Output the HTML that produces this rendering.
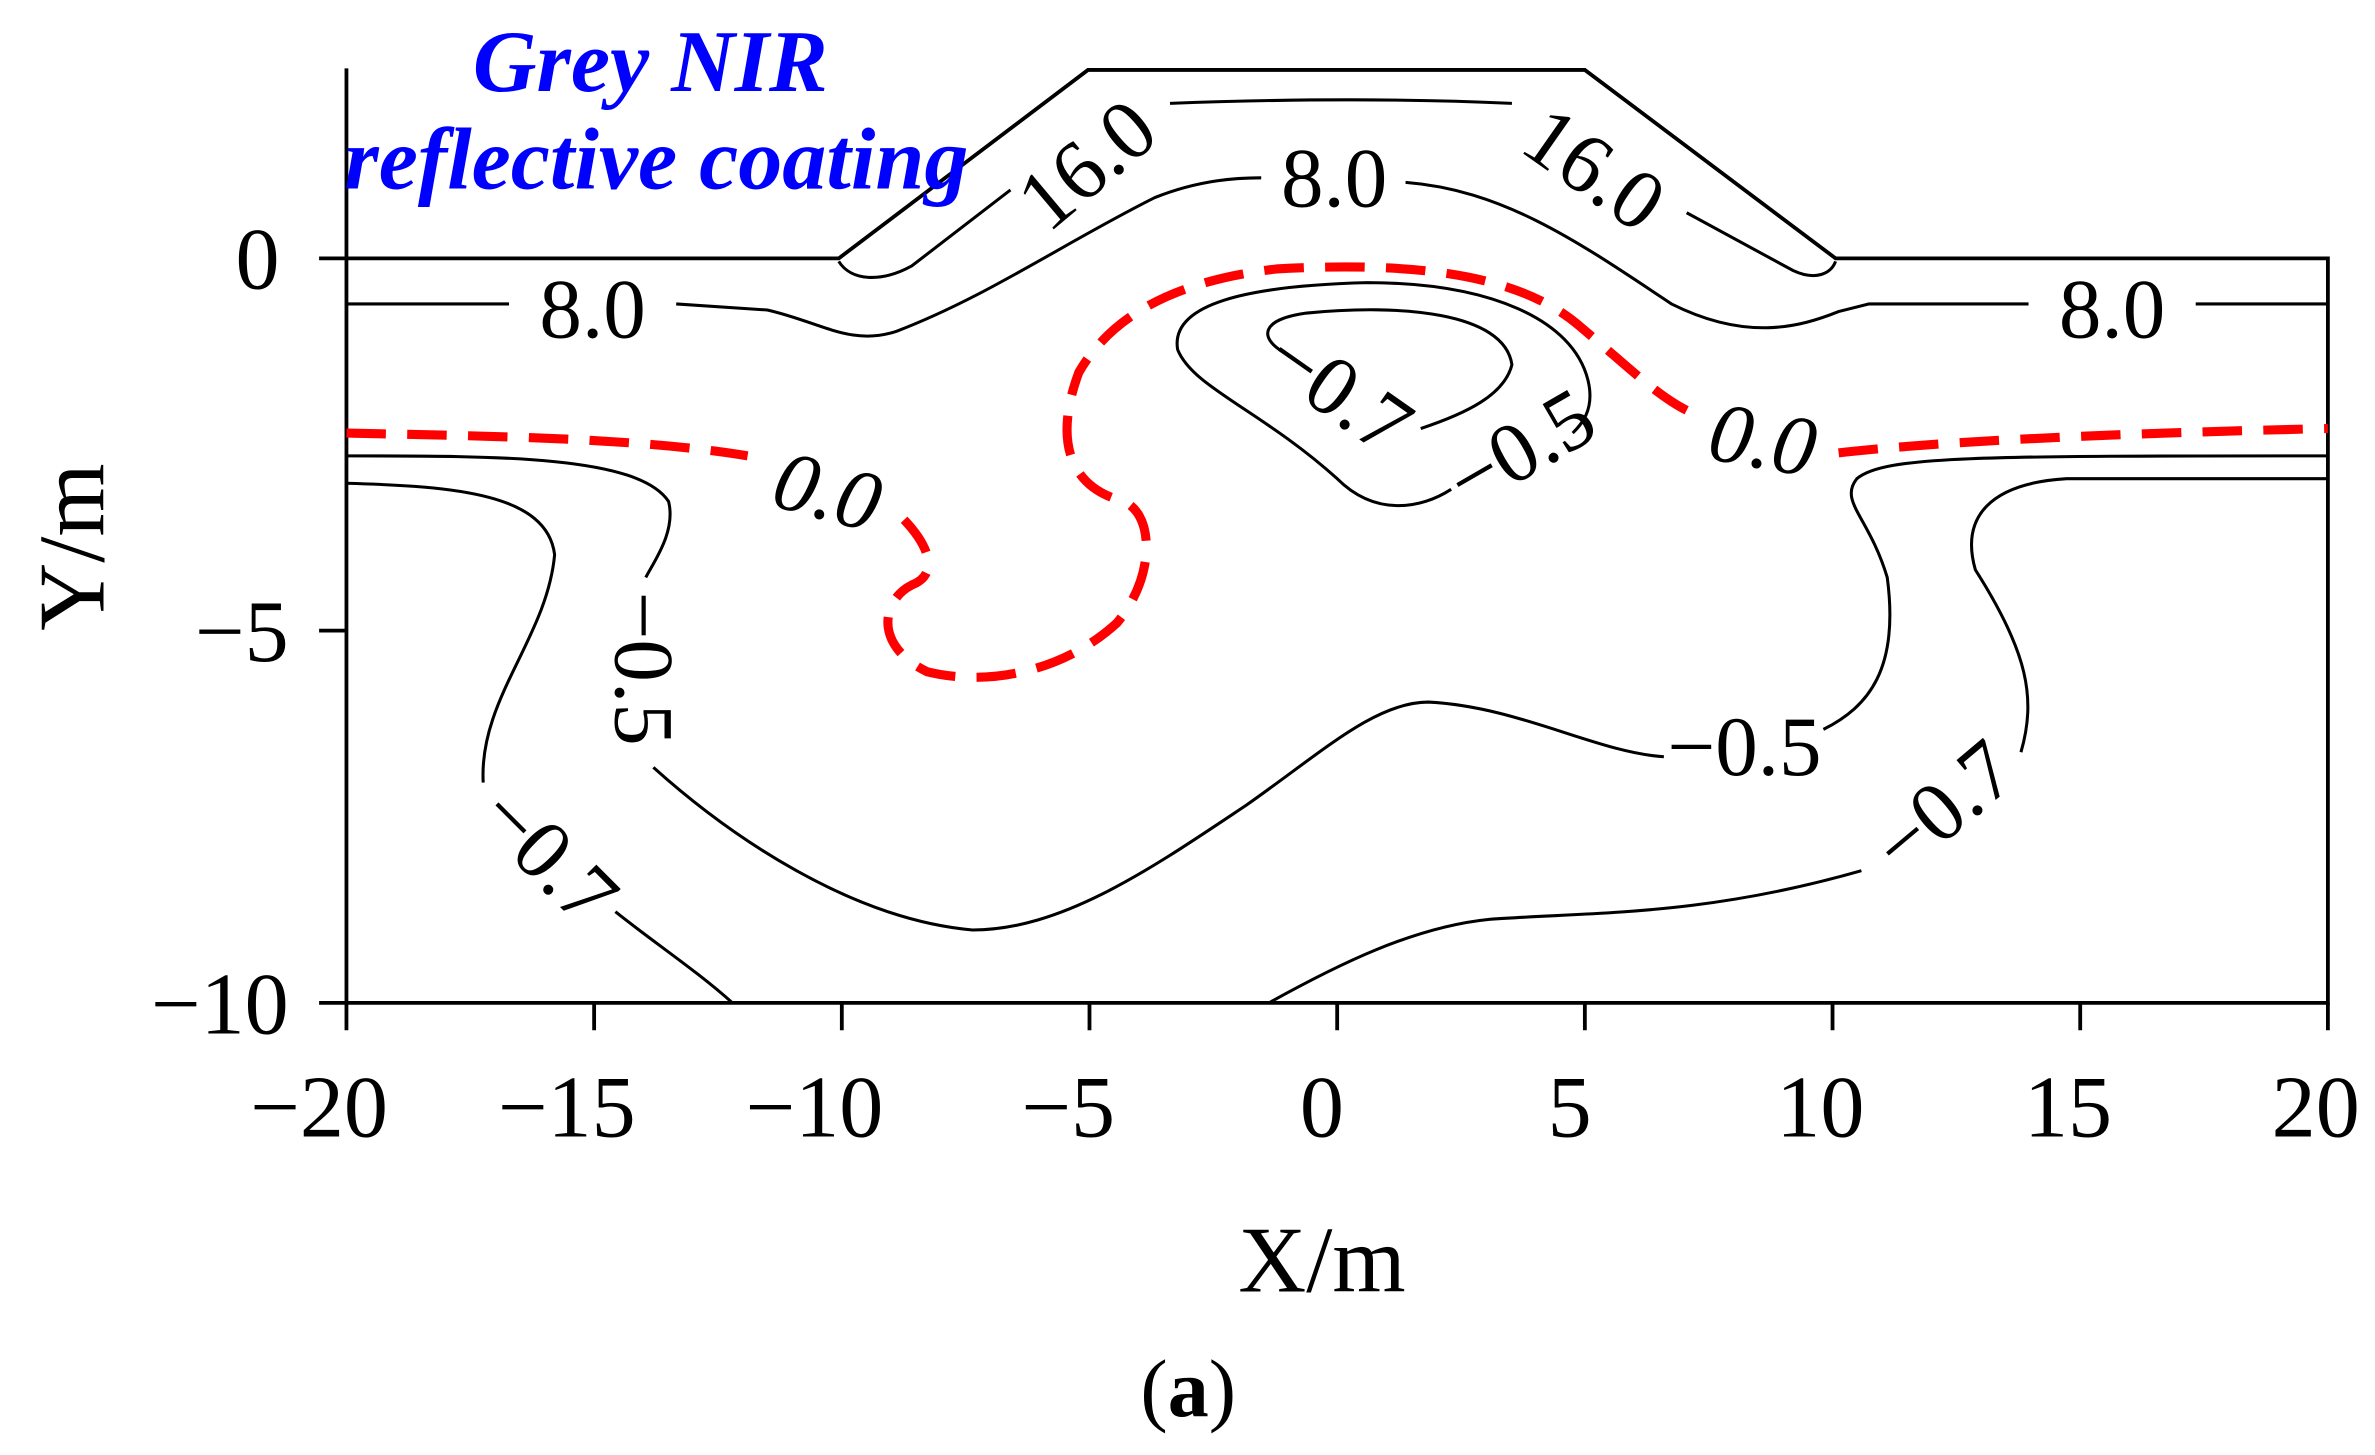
<!DOCTYPE html>
<html><head><meta charset="utf-8"><style>
html,body{margin:0;padding:0;background:#fff;}
svg{display:block;}
text{font-family:"Liberation Serif",serif;}
</style></head><body>
<svg width="2375" height="1455" viewBox="0 0 1563 957.5" xmlns="http://www.w3.org/2000/svg">
<rect width="1563" height="958" fill="#fff"/>
<g fill="none" stroke="#000" stroke-width="2.5">
<path d="M228,45 L228,660 L1532,660 L1532,170 L1208,170 L1043,46 L716,46 L552,170 L228,170"/>
<path d="M228,660v18M391,660v18M554,660v18M717,660v18M880,660v18M1043,660v18M1206,660v18M1369,660v18M1532,660v18M210,170h18M210,415h18M210,660h18"/>
</g>
<g fill="none" stroke="#000" stroke-width="2">
<path d="M552,172 C560,185 580,186 600,175 L665,125"/>
<path d="M770,68 C850,65 930,65 995,68"/>
<path d="M1110,140 L1180,178 C1195,185 1205,180 1208,172"/>
<path d="M228,200 L335,200"/><path d="M445,200 L505,204 C540,212 560,228 590,218 C650,195 700,160 760,130 C790,118 815,117 830,117"/>
<path d="M925,120 C990,125 1040,160 1100,200 C1150,225 1185,215 1210,205 L1230,200 L1335,200"/><path d="M1445,200 L1532,200"/>
<path d="M845,232 C828,222 830,210 860,206 C920,200 990,205 995,240 C990,260 965,272 935,282"/>
<path d="M955,322 C935,335 905,340 880,315 C830,270 785,255 775,230 C770,200 820,188 900,186 C980,186 1035,210 1045,250 C1050,270 1040,280 1035,285"/>
<path d="M228,300 C330,300 420,300 440,330 C445,350 430,370 425,380"/>
<path d="M430,505 C480,550 560,605 640,612 C700,612 760,570 820,530 C870,495 905,462 940,462 C1000,465 1050,495 1095,498"/>
<path d="M1200,480 C1230,465 1250,440 1242,380 C1230,340 1210,330 1222,315 C1240,300 1300,300 1532,300"/>
<path d="M228,318 C300,320 360,325 365,365 C360,420 315,460 318,515"/>
<path d="M405,600 C430,620 460,640 482,660"/>
<path d="M835,660 C880,635 930,610 980,605 C1050,600 1120,603 1225,573"/>
<path d="M1330,495 C1340,460 1335,430 1300,375 C1290,340 1310,318 1360,315 L1532,315"/>
</g>
<g fill="none" stroke="#f00" stroke-width="6" stroke-dasharray="26,14">
<path d="M228,285 C320,287 420,288 492,300"/>
<path d="M595,342 C612,360 618,378 600,385 C580,395 575,425 610,442 C650,452 700,442 735,410 C760,380 760,340 740,330 C700,320 695,285 710,245 C730,210 770,185 840,177 C930,172 1000,180 1040,215 C1070,240 1090,260 1110,270"/>
<path d="M1210,298 C1280,290 1400,285 1532,282"/>
</g>
<g font-size="56" fill="#000" text-anchor="middle">
<text x="715" y="127" transform="rotate(-40 715 108)">16.0</text>
<text x="1050" y="130" transform="rotate(35 1050 110)">16.0</text>
<text x="390" y="222">8.0</text>
<text x="878" y="136">8.0</text>
<text x="1390" y="222">8.0</text>
<text x="882" y="276" transform="rotate(35 882 256)">−0.7</text>
<text x="1000" y="314" transform="rotate(-30 1000 294)">−0.5</text>
<text x="425" y="460" transform="rotate(90 425 440)">−0.5</text>
<text x="1148" y="510">−0.5</text>
<text x="362" y="582" transform="rotate(45 362 562)">−0.7</text>
<text x="1278" y="550" transform="rotate(-40 1278 530)">−0.7</text>
<text x="545" y="342" font-style="italic" transform="rotate(15 545 322)">0.0</text>
<text x="1160" y="308" font-style="italic" transform="rotate(10 1160 290)">0.0</text>
</g>
<g font-size="58" fill="#000" text-anchor="middle">
<text x="210" y="748">−20</text><text x="373" y="748">−15</text><text x="536" y="748">−10</text>
<text x="703" y="748">−5</text><text x="870" y="748">0</text><text x="1033" y="748">5</text>
<text x="1198" y="748">10</text><text x="1361" y="748">15</text><text x="1524" y="748">20</text>
<text x="184" y="190" text-anchor="end">0</text>
<text x="190" y="435" text-anchor="end">−5</text>
<text x="190" y="680" text-anchor="end">−10</text>
</g>
<g font-size="62" fill="#000" text-anchor="middle">
<text x="870" y="850">X/m</text>
<text x="50" y="378" transform="rotate(-90 50 360)">Y/m</text>
<text x="782" y="932" font-size="54">(<tspan font-weight="bold">a</tspan>)</text>
</g>
<g font-size="58" fill="#00f" font-weight="bold" font-style="italic" text-anchor="middle">
<text x="428" y="60">Grey NIR</text>
<text x="432" y="124">reflective coating</text>
</g>
</svg>
</body></html>
